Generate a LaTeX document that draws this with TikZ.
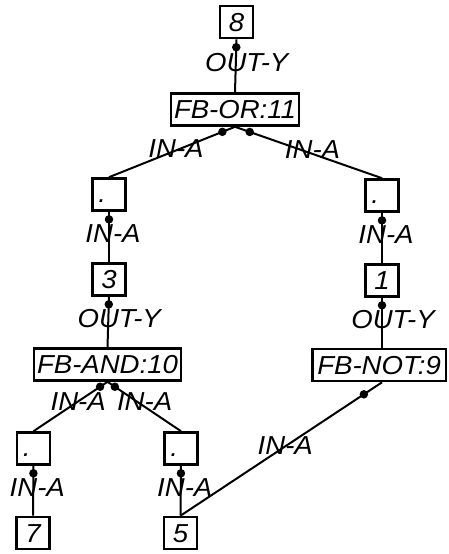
\documentclass[tikz,border=0pt]{standalone}
\usepackage{fontspec}
\setmainfont{Liberation Sans}[FakeStretch=1.06]
\usepackage{tikz}
\tikzset{
  box/.style={draw,line width=2.6pt,inner sep=0pt,minimum width=33pt,minimum height=32pt,
              text height=18pt,text depth=0pt,font=\fontsize{26}{26}\selectfont\itshape},
  fbbox/.style={box,inner xsep=3pt},
  wire/.style={line width=2pt},
  joint/.style={fill,circle,inner sep=0pt,minimum size=8.5pt},
  lbl/.style={inner sep=0pt,xshift=4pt,yshift=3pt,font=\fontsize{26}{26}\selectfont\itshape},
  outlbl/.style={lbl,xshift=7pt}
}
\begin{document}
\begin{tikzpicture}[x=1pt,y=-1pt]
  \useasboundingbox (0,0) rectangle (448,554);
  % top: output and OR block
  \node[box] (n8) at (236.5,22) {8};
  \node[fbbox] (or11) at (235,109.5) {FB-OR:11};
  \node[box] (dotL) at (109,194.5) {\raisebox{1pt}{\llap{.\kern3pt}}};
  \node[box] (dotR) at (382,195.5) {\raisebox{1pt}{\llap{.\kern3pt}}};
  \node[box] (n3) at (109,279.5) {3};
  \node[box] (n1) at (382,280.5) {1};
  \node[fbbox] (and10) at (107.5,364.5) {FB-AND:10};
  \node[fbbox,anchor=west,inner xsep=5pt] (not9) at (311,365) {FB-NOT:9};
  \node[box] (dotLL) at (33.5,448.5) {\raisebox{1pt}{\llap{.\kern3pt}}};
  \node[box] (dotLR) at (181,448.5) {\raisebox{1pt}{\llap{.\kern3pt}}};
  \node[box] (n7) at (33,533) {7};
  \node[box] (n5) at (180.5,533) {5};

  \draw[wire] (n8.south) -- node[joint,pos=.15]{} node[outlbl]{OUT-Y} (or11.north);
  \draw[wire] (or11.south) -- node[joint,pos=.1]{} node[lbl]{IN-A} (dotL.north);
  \draw[wire] (or11.south) -- node[joint,pos=.1]{} node[lbl]{IN-A} (dotR.north);
  \draw[wire] (dotL.south) -- node[joint,pos=.15]{} node[lbl]{IN-A} (n3.north);
  \draw[wire] (dotR.south) -- node[joint,pos=.15]{} node[lbl]{IN-A} (n1.north);
  \draw[wire] (n3.south) -- node[joint,pos=.15]{} node[outlbl]{OUT-Y} (and10.north);
  \draw[wire] (n1.south) -- node[joint,pos=.15]{} node[outlbl]{OUT-Y} (n1.south |- not9.north);
  % lower level
  \draw[wire] (and10.south) -- node[joint,pos=.1]{} node[lbl,pos=.45,yshift=-1pt]{IN-A} (dotLL.north);
  \draw[wire] (and10.south) -- node[joint,pos=.1]{} node[lbl,pos=.45,yshift=-1pt]{IN-A} (dotLR.north);
  \draw[wire] (dotLL.south) -- node[joint,pos=.15]{} node[lbl]{IN-A} (n7.north);
  \draw[wire] (dotLR.south) -- node[joint,pos=.15]{} node[lbl]{IN-A} (n5.north);
  \draw[wire] (n1.south |- not9.south) -- node[joint,pos=.09]{} node[lbl]{IN-A} (n5.north);
\end{tikzpicture}
\end{document}
